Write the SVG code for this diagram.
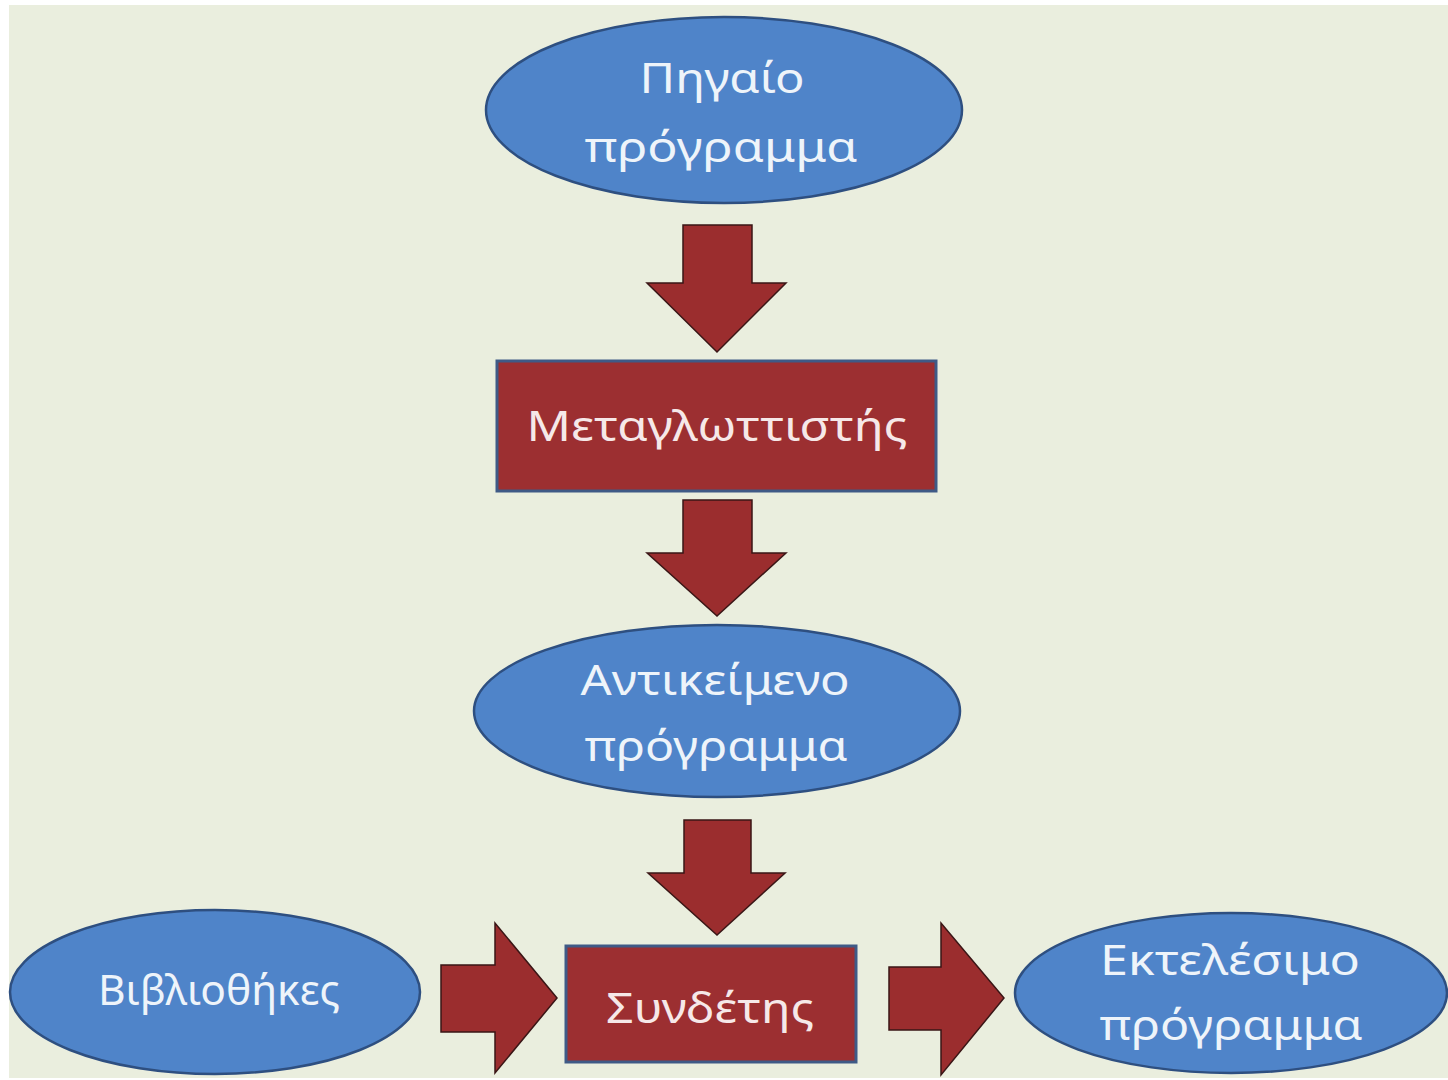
<svg xmlns="http://www.w3.org/2000/svg" width="1448" height="1080" viewBox="0 0 1448 1080">
<defs>
<style>
.ell{fill:#4F84C9;stroke:#2E4F80;stroke-width:2.5}
.box{fill:#9C2F31;stroke:#3F5A86;stroke-width:3}
.arr{fill:#9B2D2E;stroke:#3A1616;stroke-width:1.5;stroke-linejoin:miter}
.t{font-family:"Noto Sans","Open Sans","DejaVu Sans",sans-serif;font-size:42px;fill:#EEF4FA;text-anchor:middle}
.tb{font-family:"Noto Sans","Open Sans","DejaVu Sans",sans-serif;font-size:42px;fill:#F6E8E8;text-anchor:middle}
</style>
</defs>
<rect x="0" y="0" width="1448" height="1080" fill="#FFFFFF"/>
<rect x="9" y="5" width="1439" height="1073" fill="#EAEEDE"/>

<g id="connectors">
<path class="arr" d="M683,225 H752 V283 H786 L717,352 L647,283 H683 Z"/>
<path class="arr" d="M683,500 H752 V553 H786 L717,616 L647,553 H683 Z"/>
<path class="arr" d="M684,820 H751 V873 H785 L717,935 L648,873 H684 Z"/>
<path class="arr" d="M441,965 H495 V923 L557,998 L495,1073 V1032 H441 Z"/>
<path class="arr" d="M889,967 H941 V923 L1004,998 L941,1075 V1030 H889 Z"/>
</g>

<g id="node-source">
<ellipse class="ell" cx="724" cy="110" rx="238" ry="93"/>
<text class="t" x="722" y="93" textLength="165" lengthAdjust="spacingAndGlyphs">Πηγαίο</text>
<text class="t" x="721" y="162" textLength="273" lengthAdjust="spacingAndGlyphs">πρόγραμμα</text>
</g>

<g id="node-compiler">
<rect class="box" x="497" y="361" width="439" height="130"/>
<text class="tb" x="717" y="441" textLength="381" lengthAdjust="spacingAndGlyphs">Μεταγλωττιστής</text>
</g>

<g id="node-object">
<ellipse class="ell" cx="717" cy="711" rx="243" ry="86"/>
<text class="t" x="715" y="695" textLength="269" lengthAdjust="spacingAndGlyphs">Αντικείμενο</text>
<text class="t" x="716" y="761" textLength="263" lengthAdjust="spacingAndGlyphs">πρόγραμμα</text>
</g>

<g id="node-libraries">
<ellipse class="ell" cx="215" cy="992" rx="205" ry="82"/>
<text class="t" x="219" y="1005" textLength="242" lengthAdjust="spacingAndGlyphs">Βιβλιοθήκες</text>
</g>

<g id="node-linker">
<rect class="box" x="566" y="946" width="290" height="116"/>
<text class="tb" x="710" y="1023" textLength="208" lengthAdjust="spacingAndGlyphs">Συνδέτης</text>
</g>

<g id="node-executable">
<ellipse class="ell" cx="1231" cy="993" rx="216" ry="80"/>
<text class="t" x="1230" y="975" textLength="260" lengthAdjust="spacingAndGlyphs">Εκτελέσιμο</text>
<text class="t" x="1231" y="1040" textLength="263" lengthAdjust="spacingAndGlyphs">πρόγραμμα</text>
</g>
</svg>
